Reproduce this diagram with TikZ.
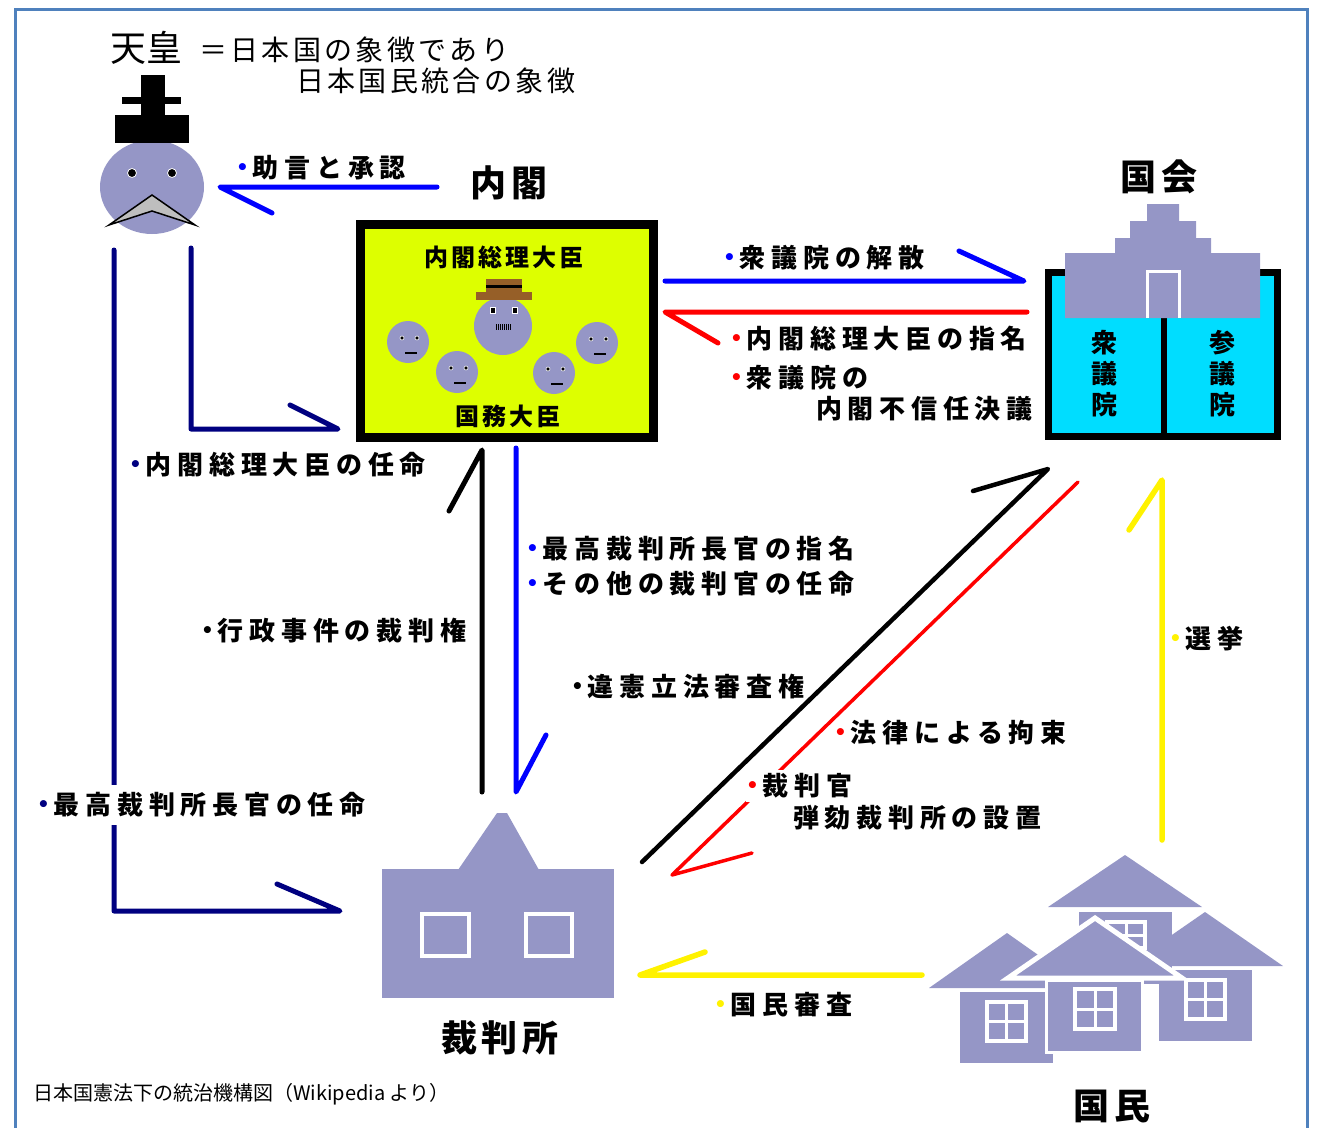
\documentclass[tikz,border=0pt]{standalone}
\usepackage{fontspec}
\setmainfont{Noto Sans CJK JP}
\newfontfamily\lblfont[LetterSpace=22]{Noto Sans CJK JP}
\newfontfamily\ttlfont[LetterSpace=12]{Noto Sans CJK JP}
\newfontfamily\dotfont{DejaVu Sans}
\usetikzlibrary{shapes.geometric}
\definecolor{frameblue}{RGB}{79,129,189}
\definecolor{lav}{RGB}{149,150,198}
\definecolor{cabinet}{RGB}{221,255,0}
\definecolor{diet}{RGB}{0,221,255}
\definecolor{navy}{RGB}{0,0,128}
\definecolor{hatbrown}{RGB}{150,95,40}
\definecolor{beard}{RGB}{190,190,190}
\newcommand{\bdot}[1]{\raisebox{3pt}{\dotfont\fontsize{20}{20}\selectfont\color{#1}•}\hspace{4pt}}
\tikzstyle{label} = [anchor=west, inner sep=0pt, font=\lblfont\bfseries\fontsize{26}{26}\selectfont]
\tikzstyle{gap} = [label, fill=white, inner ysep=8pt]
\tikzstyle{title} = [inner sep=0pt, font=\ttlfont\bfseries\fontsize{36}{36}\selectfont]
\tikzstyle{inner} = [inner sep=0pt, font=\ttlfont\bfseries\fontsize{24}{24}\selectfont]
\tikzstyle{arrow} = [line width=5pt, line cap=round, line join=round]
\tikzstyle{window} = [draw=white, line width=4pt, fill=lav]

\begin{document}
\begin{tikzpicture}
[x=1pt, y=-1pt]
\useasboundingbox (0,0) rectangle (1319,1127);
\draw [frameblue, line width=3pt] (15,1130) -- (15,9) -- (1307,9) -- (1307,1130);

% emperor
\node (tenno) [ellipse, fill=lav, minimum width=104pt, minimum height=94pt, inner sep=0pt] at (152,187) {};
\fill (115,115) rectangle (189,143);
\fill (141,75) rectangle (165,115);
\fill (122,97) rectangle (181,104);
\filldraw [draw=white, line width=0.8pt] (132,173) circle (4.5) (172,173) circle (4.5);
\filldraw [fill=beard, draw=black, line width=1.5pt, line join=miter] (109,225) -- (152,195) -- (195,225) -- (152,211) -- cycle;
\node (tennolbl) [anchor=west, inner sep=0pt, font=\fontsize{36}{36}\selectfont] at (110,48) {天皇};
\node (symbol1) [anchor=west, inner sep=0pt, font=\ttlfont\fontsize{28}{28}\selectfont] at (199,50) {＝日本国の象徴であり};
\node (symbol2) [anchor=west, inner sep=0pt, font=\ttlfont\fontsize{28}{28}\selectfont] at (296,81) {日本国民統合の象徴};

% cabinet
\node (naikakulbl) [title] at (509,183) {内閣};
\node (naikaku) [draw=black, line width=9pt, fill=cabinet, minimum width=293pt, minimum height=213pt, inner sep=0pt] at (507,331) {};
\node (pm) [inner] at (504,257) {内閣総理大臣};
\node (ministers) [inner] at (508,416) {国務大臣};
\fill [lav] (503,326) circle (29);
\fill [hatbrown] (476,292) rectangle (532,300);
\fill [hatbrown] (486,279) rectangle (522,292);
\fill (486,285) rectangle (522,288);
\filldraw [draw=white, line width=0.8pt] (490,307) rectangle (495,313) (512,307) rectangle (517,313);
\foreach \i in {0,...,7}
  \draw [line width=0.8pt] (496+2*\i,324) -- ++(0,6);
\foreach \x/\y in {408/342, 457/372, 554/373, 597/343} {
  \fill [lav] (\x,\y) circle (21);
  \filldraw [draw=white, line width=0.6pt] (\x-6,\y-4) circle (2) (\x+9,\y-4) circle (2);
  \draw [line width=2.5pt] (\x-3,\y+11) -- (\x+9,\y+11);
}

% diet
\node (kokkailbl) [title] at (1159,177) {国会};
\node (kokkai) [draw=black, line width=7pt, fill=diet, minimum width=229pt, minimum height=164pt, inner sep=0pt] at (1163,354) {};
\draw [line width=6pt] (1164,318) -- (1164,436);
\fill [lav] (1065,318) -- (1065,253) -- (1115,253) -- (1115,238) -- (1130,238) -- (1130,221) -- (1147,221) -- (1147,204) -- (1179,204) -- (1179,221) -- (1196,221) -- (1196,238) -- (1211,238) -- (1211,253) -- (1260,253) -- (1260,318) -- cycle;
\draw [white, line width=3pt] (1147,318) -- (1147,271) -- (1179,271) -- (1179,318);
\node (shugiin) [inner, font=\bfseries\fontsize{26}{31}\selectfont, align=center] at (1104,374) {衆\\議\\院};
\node (sangiin) [inner, font=\bfseries\fontsize{26}{31}\selectfont, align=center] at (1222,374) {参\\議\\院};

% court
\fill [lav] (458,870) -- (497,813) -- (507,813) -- (539,870) -- cycle;
\node (saibansho) [fill=lav, minimum width=232pt, minimum height=129pt, inner sep=0pt] at (498,933.5) {};
\draw [window] (421.5,913.5) rectangle (468.5,955.5);
\draw [window] (525.5,913.5) rectangle (571.5,955.5);
\node (saibansholbl) [title] at (500,1038) {裁判所};

% people
\fill [lav] (1079,912) rectangle (1172,984);
\fill [lav] (1048,907) -- (1125,855) -- (1202,907) -- cycle;
\draw [window] (1107,922) rectangle (1145,948);
\draw [white, line width=3pt] (1126,922) -- (1126,948) (1107,935) -- (1145,935);
\fill [lav] (929,988) -- (1007,933) -- (1085,988) -- cycle;
\fill [lav] (960,992) rectangle (1053,1063);
\draw [window] (987,1002) rectangle (1026,1041);
\draw [white, line width=3pt] (1006.5,1002) -- (1006.5,1041) (987,1021.5) -- (1026,1021.5);
\fill [lav] (1127,966) -- (1205,912) -- (1283,966) -- cycle;
\fill [lav] (1159,970) rectangle (1252,1041);
\draw [window] (1186,980) rectangle (1225,1019);
\draw [white, line width=3pt] (1205.5,980) -- (1205.5,1019) (1186,999.5) -- (1225,999.5);
\filldraw [fill=lav, draw=white, line width=5pt, line join=miter] (1008,978) -- (1095,918) -- (1182,978) -- cycle;
\filldraw [fill=lav, draw=white, line width=3pt] (1046,980) rectangle (1142,1052);
\draw [window] (1075,989) rectangle (1115,1029);
\draw [white, line width=3pt] (1095,989) -- (1095,1029) (1075,1009) -- (1115,1009);
\node (kokuminlbl) [title] at (1112,1106) {国民};

% connectors
\coordinate (jogen1) at (437,187);
\coordinate (jogen2) at (220,187);
\coordinate (kaisan1) at (665,281);
\coordinate (kaisan2) at (1024,281);
\coordinate (shimei1) at (1027,312);
\coordinate (shimei2) at (665,312);
\coordinate (pmnin1) at (191,248);
\coordinate (pmnin2) at (338,429);
\coordinate (chonin1) at (114,250);
\coordinate (chonin2) at (340,911);
\coordinate (gyosei1) at (482,792);
\coordinate (gyosei2) at (482,450);
\coordinate (saikoshi1) at (516,448);
\coordinate (saikoshi2) at (516,792);
\coordinate (iken1) at (642,862);
\coordinate (iken2) at (1048,469);
\coordinate (kosoku1) at (1078,482);
\coordinate (kosoku2) at (672,875);
\coordinate (senkyo1) at (1162,840);
\coordinate (senkyo2) at (1162,480);
\coordinate (shinsa1) at (922,975);
\coordinate (shinsa2) at (640,975);

\draw [arrow, blue] (jogen1) -- (jogen2) -- ++(52,26);
\draw [arrow, blue] (kaisan1) -- (kaisan2) -- ++(-65,-30);
\draw [arrow, red] (shimei1) -- (shimei2) -- ++(53,31);
\draw [arrow, navy] (pmnin1) |- (pmnin2) -- ++(-48,-24);
\draw [arrow, navy] (chonin1) |- (chonin2) -- ++(-63,-27);
\draw [arrow, black] (gyosei1) -- (gyosei2) -- ++(-33,61);
\draw [arrow, blue] (saikoshi1) -- (saikoshi2) -- ++(30,-57);
\draw [arrow, black, line width=4.5pt] (iken1) -- (iken2) -- ++(-75,22);
\draw [arrow, red, line width=3.5pt] (kosoku1) -- (kosoku2) -- ++(80,-22);
\draw [arrow, yellow, line width=5.5pt] (senkyo1) -- (senkyo2) -- ++(-33,50);
\draw [arrow, yellow, line width=5.5pt] (shinsa1) -- (shinsa2) -- ++(65,-23);

% labels
\node (jogen) [label] at (236,168) {\bdot{blue}助言と承認};
\node (kaisan) [label] at (723,258) {\bdot{blue}衆議院の解散};
\node (shimei) [label] at (730,339) {\bdot{red}内閣総理大臣の指名};
\node (fushin1) [label] at (730,378) {\bdot{red}衆議院の};
\node (fushin2) [label] at (816,409) {内閣不信任決議};
\node (pmnin) [label] at (129,465) {\bdot{navy}内閣総理大臣の任命};
\node (chonin) [gap] at (37,805) {\bdot{navy}最高裁判所長官の任命};
\node (gyosei) [label] at (201,631) {\bdot{black}行政事件の裁判権};
\node (saikoshi) [label] at (526,549) {\bdot{blue}最高裁判所長官の指名};
\node (saibankan) [label] at (526,584) {\bdot{blue}その他の裁判官の任命};
\node (iken) [label] at (571,687) {\bdot{black}違憲立法審査権};
\node (kosoku) [label] at (834,733) {\bdot{red}法律による拘束};
\node (dangai1) [label, fill=white, inner ysep=4pt] at (746,786) {\bdot{red}裁判官};
\node (dangai2) [label] at (793,818) {弾劾裁判所の設置};
\node (senkyo) [label] at (1169,639) {\bdot{yellow}選挙};
\node (shinsa) [label] at (714,1005) {\bdot{yellow}国民審査};

\node (caption) [anchor=west, inner sep=0pt, font=\fontsize{20}{20}\selectfont] at (33,1094) {日本国憲法下の統治機構図（Wikipedia より）};
\end{tikzpicture}
\end{document}
